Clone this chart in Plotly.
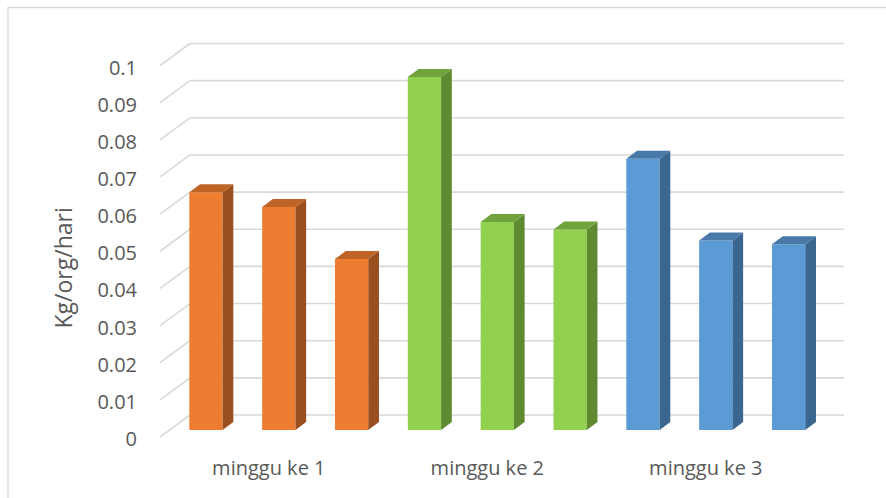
import plotly.graph_objects as go

# ---------------- data ----------------
weeks = ["minggu ke 1", "minggu ke 2", "minggu ke 3"]
series_1 = [0.064, 0.095, 0.073]
series_2 = [0.060, 0.056, 0.051]
series_3 = [0.046, 0.054, 0.050]
y_ticks = [0, 0.01, 0.02, 0.03, 0.04, 0.05, 0.06, 0.07, 0.08, 0.09, 0.1]
y_tick_labels = ["0", "0.01", "0.02", "0.03", "0.04", "0.05", "0.06", "0.07", "0.08", "0.09", "0.1"]
y_title = "Kg/org/hari"

# ---------------- styles ----------------
front_colors = ["#ED7D31", "#92D050", "#5B9BD5"]
side_colors = ["#9A4F1E", "#5F8A32", "#3A6690"]
top_colors = ["#BE6427", "#70A33C", "#4879A8"]
grid_color = "#D9D9D9"
text_color = "#595959"
FONT = "Open Sans"

W, H = 886, 498
X0, SX = 278.8, 218.5      # pixel of first category centre, pixels per category
Y0, SY = 430.0, 3715.0     # pixel of value 0 (bar plane), pixels per unit
BARGAP, GROUPGAP = 0.0, 0.543
DEPTH_X_PX, DEPTH_Y_PX = 10.7, 8.0
WALL_FRONT_X_PX, WALL_BACK_X_PX, WALL_RIGHT_X_PX = 160, 190, 844
WALL_FRONT_DY_PX, WALL_BACK_DY_PX = -7, 15


def ux(px):
    return px / SX


def uy(px):
    return px / SY


def cat_x(px):
    return (px - X0) / SX


x_range = [cat_x(0), cat_x(W)]
y_range = [-(H - Y0) / SY, Y0 / SY]

fig = go.Figure()

all_series = [series_1, series_2, series_3]
xs = list(range(len(weeks)))
for k, vals in enumerate(all_series):
    fig.add_trace(go.Bar(
        x=xs, y=vals, name=f"series {k + 1}",
        marker=dict(color=front_colors, line=dict(width=0)),
        showlegend=False, hoverinfo="y",
    ))

# 3-D faces (side and top) derived from the same bar geometry
n = len(all_series)
slot = (1 - BARGAP) / n
bw = slot * (1 - GROUPGAP)
dx, dy = ux(DEPTH_X_PX), uy(DEPTH_Y_PX)
for k, vals in enumerate(all_series):
    for g, v in enumerate(vals):
        c = g - (1 - BARGAP) / 2 + slot * (k + 0.5)
        xl, xr = c - bw / 2, c + bw / 2
        fig.add_trace(go.Scatter(
            x=[xr, xr + dx, xr + dx, xr, xr], y=[0, dy, v + dy, v, 0],
            mode="lines", fill="toself", fillcolor=side_colors[g],
            line=dict(width=0, color=side_colors[g]),
            showlegend=False, hoverinfo="skip",
        ))
        fig.add_trace(go.Scatter(
            x=[xl, xl + dx, xr + dx, xr, xl], y=[v, v + dy, v + dy, v, v],
            mode="lines", fill="toself", fillcolor=top_colors[g],
            line=dict(width=0, color=top_colors[g]),
            showlegend=False, hoverinfo="skip",
        ))

# back wall and side wall gridlines
shapes = []
for v in y_ticks:
    yb = v + uy(WALL_BACK_DY_PX)
    yf = v + uy(WALL_FRONT_DY_PX)
    shapes.append(dict(type="line", xref="x", yref="y", layer="below",
                       x0=cat_x(WALL_BACK_X_PX), x1=cat_x(WALL_RIGHT_X_PX), y0=yb, y1=yb,
                       line=dict(color=grid_color, width=1.6)))
    shapes.append(dict(type="line", xref="x", yref="y", layer="below",
                       x0=cat_x(WALL_FRONT_X_PX), x1=cat_x(WALL_BACK_X_PX), y0=yf, y1=yb,
                       line=dict(color=grid_color, width=1.6)))
# chart border
shapes.append(dict(type="rect", xref="paper", yref="paper",
                   x0=8 / W, x1=1.01, y0=-0.02, y1=(H - 7.5) / H,
                   line=dict(color=grid_color, width=1.3)))

fig.update_layout(
    width=W, height=H,
    margin=dict(l=0, r=0, t=0, b=0, pad=0),
    paper_bgcolor="white", plot_bgcolor="white",
    barmode="group", bargap=BARGAP, bargroupgap=GROUPGAP,
    font=dict(family=FONT, color=text_color, size=20),
    shapes=shapes,
    xaxis=dict(range=x_range, anchor="free", position=(H - 454) / H,
               tickmode="array", tickvals=xs, ticktext=weeks, ticklabelshift=-10,
               showgrid=False, zeroline=False, showline=False, ticks="",
               tickfont=dict(size=20, family=FONT, color=text_color),
               fixedrange=True, automargin=False),
    yaxis=dict(range=y_range, anchor="free", position=137 / W,
               tickmode="array", tickvals=y_ticks, ticktext=y_tick_labels, ticklabelshift=9,
               showgrid=False, zeroline=False, showline=False, ticks="",
               tickfont=dict(size=20, family=FONT, color=text_color),
               fixedrange=True, automargin=False),
    annotations=[dict(text=y_title, xref="paper", yref="paper",
                      x=62 / W, y=(H - 268.5) / H, xanchor="center", yanchor="middle",
                      textangle=-90, showarrow=False,
                      font=dict(size=23, family=FONT, color=text_color))],
)

fig.write_html("out.html")
